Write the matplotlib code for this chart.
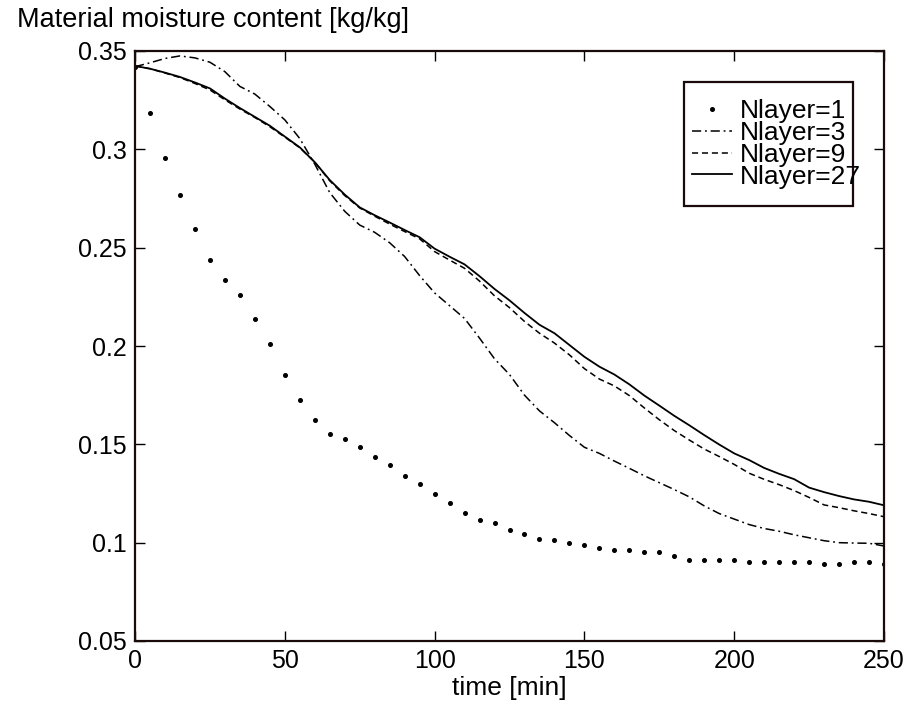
import numpy as np
import matplotlib.pyplot as plt
from matplotlib.patches import Rectangle

plt.rcParams['font.family'] = ['Liberation Sans', 'DejaVu Sans']

# time axis [min], one value every 5 min
t = np.arange(0, 255, 5)

# Nlayer=1 (dotted markers)
m1 = [0.342, 0.3186, 0.2957, 0.277, 0.2593, 0.2436, 0.2334, 0.2258, 0.2139, 0.2009,
      0.1851, 0.1724, 0.1624, 0.1554, 0.1526, 0.1486, 0.1437, 0.1397, 0.1339, 0.1300,
      0.1249, 0.1200, 0.1151, 0.1114, 0.1102, 0.1063, 0.1043, 0.1020, 0.1012, 0.1000,
      0.0990, 0.0973, 0.0963, 0.0963, 0.0953, 0.0953, 0.0934, 0.0912, 0.0912, 0.0912,
      0.0912, 0.0902, 0.0902, 0.0902, 0.0902, 0.0902, 0.0893, 0.0893, 0.0902, 0.0902,
      0.0893]

# Nlayer=3 (dash-dot)
m3 = [0.342, 0.344, 0.3462, 0.3475, 0.3465, 0.3443, 0.3395, 0.3320, 0.3281, 0.3218,
      0.3150, 0.3055, 0.2925, 0.2780, 0.2685, 0.2615, 0.2578, 0.2525, 0.2455, 0.2358,
      0.2270, 0.2205, 0.2140, 0.2040, 0.1935, 0.1855, 0.1750, 0.1670, 0.1610, 0.1545,
      0.1485, 0.1454, 0.1415, 0.1378, 0.1340, 0.1305, 0.1270, 0.1233, 0.1187, 0.1148,
      0.1120, 0.1092, 0.1072, 0.1058, 0.1040, 0.1025, 0.1010, 0.1000, 0.0998, 0.0997,
      0.0983]

# Nlayer=9 (dashed)
m9 = [0.3424, 0.341, 0.3388, 0.3365, 0.3335, 0.3302, 0.3252, 0.3205, 0.3162, 0.3115,
      0.3062, 0.3008, 0.2935, 0.2840, 0.2765, 0.2702, 0.2660, 0.2620, 0.2582, 0.2545,
      0.2480, 0.2437, 0.2395, 0.2330, 0.2255, 0.2195, 0.2125, 0.2065, 0.2015, 0.1955,
      0.1885, 0.1832, 0.1797, 0.1748, 0.1685, 0.1625, 0.1570, 0.1522, 0.1476, 0.1438,
      0.1398, 0.1353, 0.1322, 0.1295, 0.1265, 0.1230, 0.1192, 0.1178, 0.1162, 0.1148,
      0.1132]

# Nlayer=27 (solid)
m27 = [0.3424, 0.341, 0.339, 0.3368, 0.334, 0.331, 0.3258, 0.321, 0.3165, 0.312,
       0.3065, 0.301, 0.2935, 0.2844, 0.2770, 0.2705, 0.2665, 0.2628, 0.2590, 0.2553,
       0.2495, 0.2454, 0.2415, 0.2355, 0.2290, 0.2232, 0.2168, 0.2108, 0.2065, 0.2005,
       0.1945, 0.1895, 0.1855, 0.1805, 0.1748, 0.1697, 0.1645, 0.1597, 0.1547, 0.1499,
       0.1454, 0.1420, 0.1380, 0.1350, 0.1323, 0.1280, 0.1257, 0.1237, 0.1220, 0.1208,
       0.1190]

labels = ['Nlayer=1', 'Nlayer=3', 'Nlayer=9', 'Nlayer=27']

fig = plt.figure(figsize=(9.13, 7.11), dpi=100)
ax = fig.add_axes([135 / 913, 70 / 711, 749 / 913, 590 / 711])

ax.plot(t, m1, linestyle='none', marker='o', ms=2.6, color='k', label=labels[0])
ax.plot(t, m3, color='k', lw=1.1, dashes=(6, 2.5, 1.2, 2.5), label=labels[1])
ax.plot(t, m9, color='k', lw=1.1, dashes=(4, 2.5), label=labels[2])
ax.plot(t, m27, color='k', lw=1.3, label=labels[3])

ax.set_xlim(0, 250)
ax.set_ylim(0.05, 0.35)
ax.set_xticks([0, 50, 100, 150, 200, 250])
ax.set_yticks([0.05, 0.1, 0.15, 0.2, 0.25, 0.3, 0.35])
ax.set_yticklabels(['0.05', '0.1', '0.15', '0.2', '0.25', '0.3', '0.35'])
ax.tick_params(direction='in', top=True, right=True, length=7, width=1,
               labelsize=18, pad=6)
for s in ax.spines.values():
    s.set_linewidth(1.6)
    s.set_color('#1a0a0a')

ax.set_xlabel('time [min]', fontsize=19, labelpad=2)
fig.text(17 / 913, 1 - 20 / 711, 'Material moisture content [kg/kg]',
         fontsize=19.5, ha='left', va='center')

# legend text is allowed to run past its box, as in the original
leg = ax.legend(loc='upper left', bbox_to_anchor=((692 - 135) / 749, (641 - 99) / 590),
                frameon=False, fontsize=19, handlelength=1.5, handletextpad=0.3,
                labelspacing=-0.08, borderpad=0, borderaxespad=0)
ax.add_patch(Rectangle(((684 - 135) / 749, (641 - 206) / 590), 169 / 749, 124 / 590,
                       transform=ax.transAxes, fill=False, lw=1.6, ec='#1a0a0a', zorder=5))

fig.savefig('out.png', dpi=100)
